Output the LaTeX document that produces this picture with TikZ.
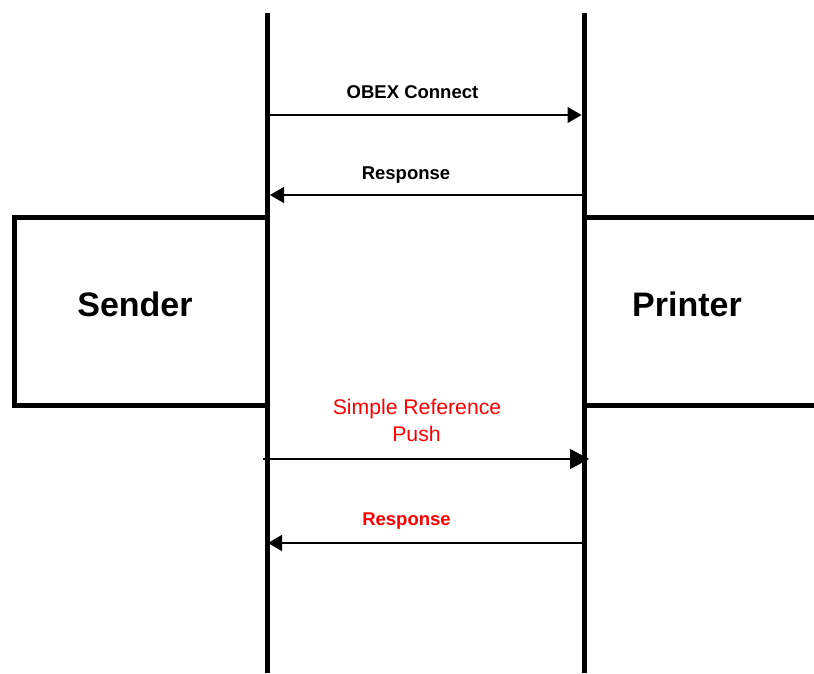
\documentclass[tikz,border=0pt]{standalone}
\usepackage{fontspec}
\setmainfont{Liberation Sans}
\usetikzlibrary{arrows.meta}

\tikzset{
  life/.style={line width=5pt},
  msg/.style={line width=1.2pt,-{Triangle[length=14pt,width=16pt]}},
  bigmsg/.style={line width=1.2pt,-{Triangle[length=19pt,width=20pt]}},
  lbl/.style={inner sep=0pt,anchor=base,font=\fontsize{18.5}{22}\selectfont\bfseries},
  actor/.style={inner sep=0pt,anchor=base,font=\fontsize{34}{40}\selectfont\bfseries}
}

\begin{document}
\begin{tikzpicture}[x=1pt,y=-1pt]
\useasboundingbox (0,0) rectangle (814,673);
% lifelines
\draw[life] (267.5,13) -- (267.5,673);
\draw[life] (584,13) -- (584,673);
% boxes
\draw[life] (267.5,217.5) -- (14.5,217.5) -- (14.5,405.5) -- (267.5,405.5);
\draw[life] (584,217.5) -- (814,217.5);
\draw[life] (584,405.5) -- (814,405.5);
\node[actor] (sender) at (135,316) {Sender};
\node[actor] (printer) at (687,316) {Printer};
% messages
\coordinate (s1) at (267,115);
\coordinate (p1) at (581.5,115);
\coordinate (p2) at (581.5,195);
\coordinate (s2) at (270,195);
\coordinate (s3) at (263,459);
\coordinate (p3) at (589,459);
\coordinate (p4) at (581.5,543);
\coordinate (s4) at (268,543);
\draw[msg] (s1) -- (p1);
\draw[msg] (p2) -- (s2);
\draw[bigmsg] (s3) -- (p3);
\draw[msg] (p4) -- (s4);
\node[lbl] (connect) at (412.5,98) {OBEX Connect};
\node[lbl] (resp) at (406,179) {Response};
\node[inner sep=0pt,anchor=base,text=red,font=\fontsize{21.2}{24}\selectfont] (push1) at (417,414) {Simple Reference};
\node[inner sep=0pt,anchor=base,text=red,font=\fontsize{21.2}{24}\selectfont] (push2) at (416.5,441) {Push};
\node[lbl,text=red] (resp2) at (406.5,525) {Response};
\end{tikzpicture}
\end{document}
